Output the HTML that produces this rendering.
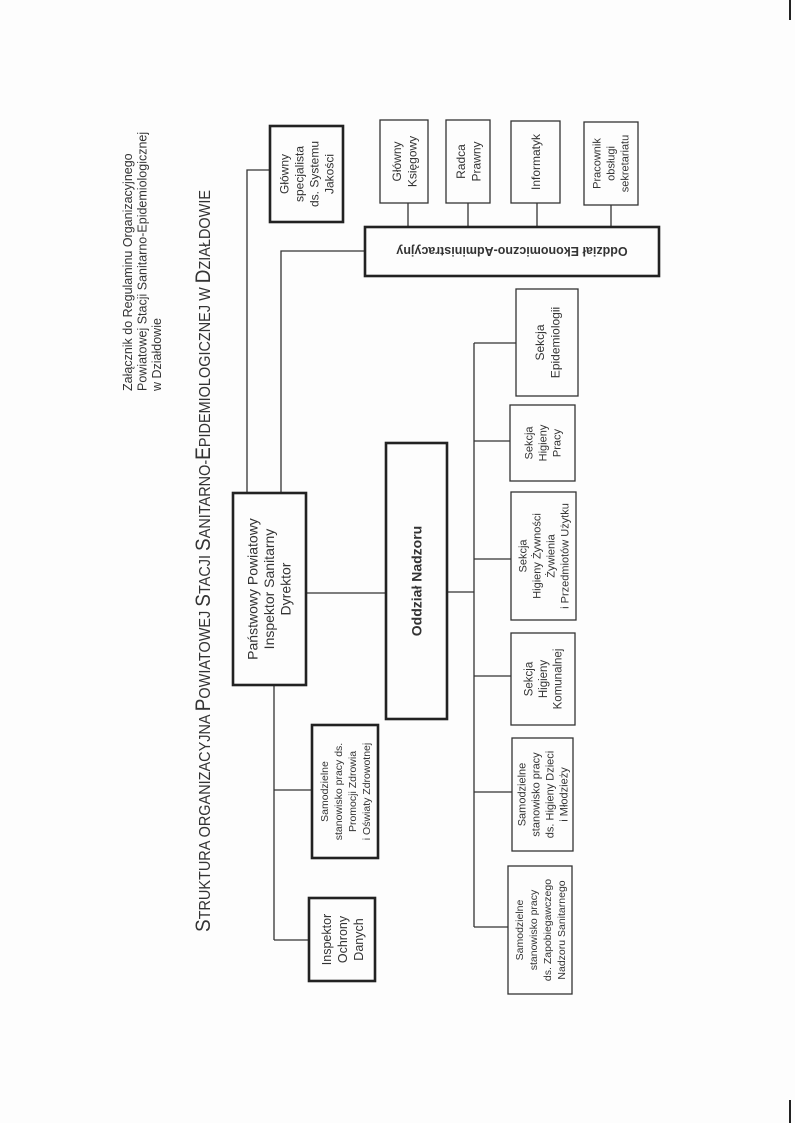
<!DOCTYPE html>
<html><head><meta charset="utf-8"><style>
html,body{margin:0;padding:0;background:#fff;}
svg{display:block;}
text{font-family:"Liberation Sans",sans-serif;fill:#333;}
</style></head><body>
<svg width="795" height="1123" viewBox="0 0 795 1123" xmlns="http://www.w3.org/2000/svg">
<rect width="795" height="1123" fill="#fdfdfd"/>
<line x1="790" y1="0" x2="790" y2="20" stroke="#222" stroke-width="2"/>
<line x1="790" y1="1100" x2="790" y2="1123" stroke="#222" stroke-width="2"/>

<!-- header -->
<text transform="translate(132,391) rotate(-90)" font-size="12.5" fill="#444">
<tspan x="0" y="0">Załącznik do Regulaminu Organizacyjnego</tspan>
<tspan x="0" y="14.5">Powiatowej Stacji Sanitarno-Epidemiologicznej</tspan>
<tspan x="0" y="29">w Działdowie</tspan>
</text>
<!-- title -->
<text transform="translate(210,932) rotate(-90)" font-size="16" textLength="742" lengthAdjust="spacingAndGlyphs"><tspan font-size="21">S</tspan>TRUKTURA ORGANIZACYJNA <tspan font-size="21">P</tspan>OWIATOWEJ <tspan font-size="21">S</tspan>TACJI <tspan font-size="21">S</tspan>ANITARNO-<tspan font-size="21">E</tspan>PIDEMIOLOGICZNEJ W <tspan font-size="21">D</tspan>ZIAŁDOWIE</text>

<g stroke="#333" stroke-width="1.3" fill="none">
<polyline points="270,170 247,170 247,493"/>
<polyline points="365,251 281,251 281,493"/>
<line x1="408" y1="203" x2="408" y2="227"/>
<line x1="468" y1="203" x2="468" y2="227"/>
<line x1="537" y1="203" x2="537" y2="227"/>
<line x1="611" y1="205" x2="611" y2="227"/>
<line x1="306" y1="593" x2="386" y2="593"/>
<line x1="447" y1="592" x2="474" y2="592"/>
<line x1="474" y1="343" x2="474" y2="927"/>
<line x1="474" y1="343" x2="516" y2="343"/>
<line x1="474" y1="441" x2="510" y2="441"/>
<line x1="474" y1="559" x2="511" y2="559"/>
<line x1="474" y1="676" x2="511" y2="676"/>
<line x1="474" y1="792" x2="512" y2="792"/>
<line x1="474" y1="927" x2="508" y2="927"/>
<line x1="274" y1="685" x2="274" y2="940"/>
<line x1="274" y1="790" x2="312" y2="790"/>
<line x1="274" y1="940" x2="309" y2="940"/>
<rect x="380" y="120" width="48" height="83"/>
<rect x="446" y="120" width="44" height="83"/>
<rect x="511" y="121" width="49" height="82"/>
<rect x="584" y="122" width="54" height="83"/>
<rect x="516" y="289" width="62" height="107"/>
<rect x="510" y="405" width="65" height="76"/>
<rect x="511" y="492" width="65" height="128"/>
<rect x="511" y="633" width="64" height="92"/>
<rect x="512" y="738" width="61" height="113"/>
<rect x="508" y="866" width="64" height="128"/>
</g>
<g stroke="#222" stroke-width="2.6" fill="none">
<rect x="270" y="126" width="73" height="96"/>
<rect x="365" y="227" width="294" height="49"/>
<rect x="233" y="493" width="73" height="192"/>
<rect x="386" y="443" width="61" height="276"/>
<rect x="312" y="725" width="66" height="133"/>
<rect x="309" y="898" width="66" height="83"/>
</g>

<g font-size="12" text-anchor="middle">
<text transform="translate(306.5,174) rotate(-90)"><tspan x="0" y="-18">Główny</tspan><tspan x="0" y="-3">specjalista</tspan><tspan x="0" y="12">ds. Systemu</tspan><tspan x="0" y="27">Jakości</tspan></text>
<text transform="translate(404,161.5) rotate(-90)"><tspan x="0" y="-3">Główny</tspan><tspan x="0" y="12.5">Księgowy</tspan></text>
<text transform="translate(468,161.5) rotate(-90)"><tspan x="0" y="-3">Radca</tspan><tspan x="0" y="12.5">Prawny</tspan></text>
<text transform="translate(535.5,162) rotate(-90)"><tspan x="0" y="4.5">Informatyk</tspan></text>
<text transform="translate(611,163.5) rotate(-90)" font-size="11"><tspan x="0" y="-10.5">Pracownik</tspan><tspan x="0" y="3.5">obsługi</tspan><tspan x="0" y="17.5">sekretariatu</tspan></text>
<text transform="translate(512,251.5) rotate(180)" font-size="12.5" font-weight="bold"><tspan x="0" y="4.5">Oddział Ekonomiczno-Administracyjny</tspan></text>
<text transform="translate(547,342.5) rotate(-90)"><tspan x="0" y="-3">Sekcja</tspan><tspan x="0" y="12.5">Epidemiologii</tspan></text>
<text transform="translate(542.5,443) rotate(-90)" font-size="11"><tspan x="0" y="-10">Sekcja</tspan><tspan x="0" y="4">Higieny</tspan><tspan x="0" y="18">Pracy</tspan></text>
<text transform="translate(543.5,556) rotate(-90)" font-size="11"><tspan x="0" y="-17">Sekcja</tspan><tspan x="0" y="-3">Higieny Żywności</tspan><tspan x="0" y="11">Żywienia</tspan><tspan x="0" y="25">i Przedmiotów Użytku</tspan></text>
<text transform="translate(543,679) rotate(-90)" font-size="11.5"><tspan x="0" y="-10.5">Sekcja</tspan><tspan x="0" y="4">Higieny</tspan><tspan x="0" y="18.5">Komunalnej</tspan></text>
<text transform="translate(542.5,794.5) rotate(-90)" font-size="11"><tspan x="0" y="-17">Samodzielne</tspan><tspan x="0" y="-3">stanowisko pracy</tspan><tspan x="0" y="11">ds. Higieny Dzieci</tspan><tspan x="0" y="25">i Młodzieży</tspan></text>
<text transform="translate(540,930) rotate(-90)" font-size="10.5"><tspan x="0" y="-17">Samodzielne</tspan><tspan x="0" y="-3">stanowisko pracy</tspan><tspan x="0" y="11">ds. Zapobiegawczego</tspan><tspan x="0" y="25">Nadzoru Sanitarnego</tspan></text>
<text transform="translate(345,791.5) rotate(-90)" font-size="10.5"><tspan x="0" y="-17">Samodzielne</tspan><tspan x="0" y="-3">stanowisko pracy ds.</tspan><tspan x="0" y="11">Promocji Zdrowia</tspan><tspan x="0" y="25">i Oświaty Zdrowotnej</tspan></text>
<text transform="translate(342,939.5) rotate(-90)" font-size="12.5"><tspan x="0" y="-11">Inspektor</tspan><tspan x="0" y="5">Ochrony</tspan><tspan x="0" y="21">Danych</tspan></text>
<text transform="translate(269.5,589) rotate(-90)" font-size="14"><tspan x="0" y="-12">Państwowy Powiatowy</tspan><tspan x="0" y="4.5">Inspektor Sanitarny</tspan><tspan x="0" y="21">Dyrektor</tspan></text>
<text transform="translate(416.5,581) rotate(-90)" font-size="14" font-weight="bold"><tspan x="0" y="5">Oddział Nadzoru</tspan></text>
</g>
</svg>
</body></html>
